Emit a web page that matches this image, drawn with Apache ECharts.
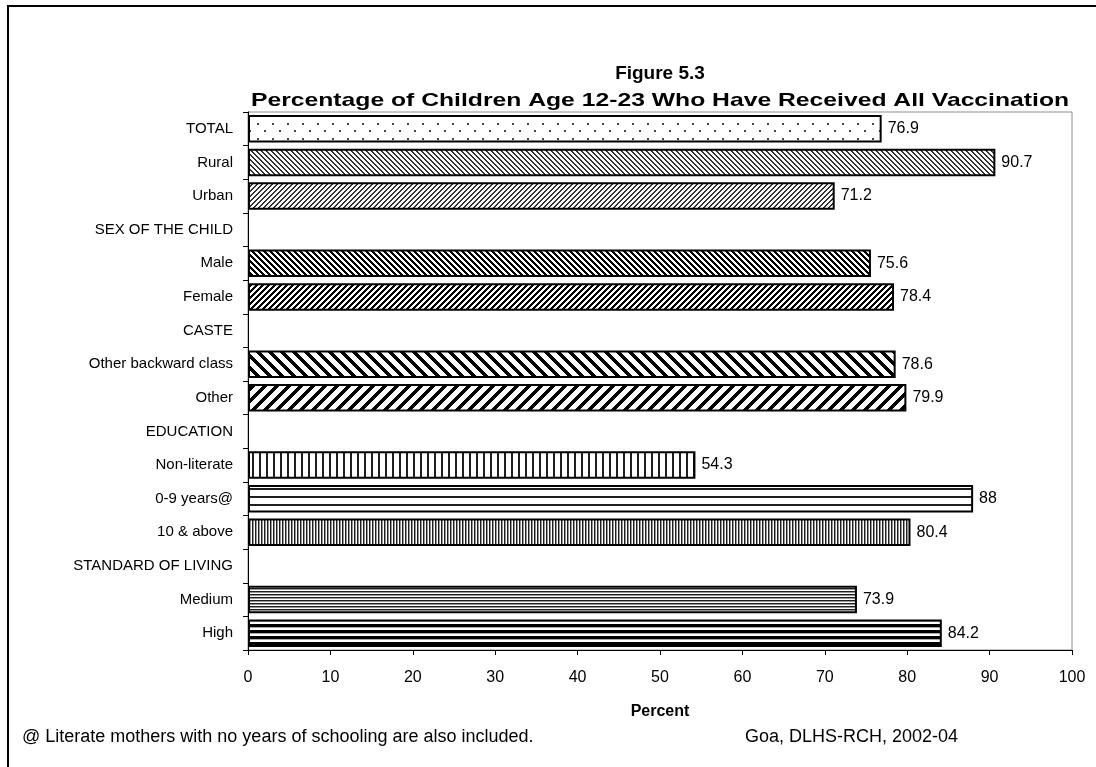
<!DOCTYPE html>
<html>
<head>
<meta charset="utf-8">
<script src="https://cdn.jsdelivr.net/npm/echarts@6/dist/echarts.min.js"></script>
<style>
  html, body { margin: 0; padding: 0; background: #ffffff; }
  #chart { width: 1096px; height: 767px; }
</style>
</head>
<body>
<div id="chart"></div>
<script>
// Categories, top to bottom; section headings carry no value
const categories = [
  'TOTAL', 'Rural', 'Urban',
  'SEX OF THE CHILD', 'Male', 'Female',
  'CASTE', 'Other backward class', 'Other',
  'EDUCATION', 'Non-literate', '0-9 years@', '10 & above',
  'STANDARD OF LIVING', 'Medium', 'High'
];
const values = [
  76.9, 90.7, 71.2,
  null, 75.6, 78.4,
  null, 78.6, 79.9,
  null, 54.3, 88, 80.4,
  null, 73.9, 84.2
];
// Hatch style used for each bar
const fills = [
  'dots', 'diagDownFine', 'diagUpFine',
  null, 'diagDownMed', 'diagUpMed',
  null, 'diagDownWide', 'diagUpWide',
  null, 'vertWide', 'horizWide', 'vertFine',
  null, 'horizFine', 'horizBold'
];
const xMin = 0, xMax = 100, xStep = 10;

const FONT = "'Liberation Sans', Arial, sans-serif";

// Build a repeating tile from a per-pixel shade function (returns 0-255 grey or null for white)
function tile(w, h, shade) {
  const c = document.createElement('canvas');
  c.width = w; c.height = h;
  const ctx = c.getContext('2d');
  const img = ctx.createImageData(w, h);
  for (let y = 0; y < h; y++) {
    for (let x = 0; x < w; x++) {
      const g = shade(x, y);
      const v = (g == null) ? 255 : g;
      const k = (y * w + x) * 4;
      img.data[k] = v; img.data[k + 1] = v; img.data[k + 2] = v; img.data[k + 3] = 255;
    }
  }
  ctx.putImageData(img, 0, 0);
  return c;
}

const mod = (a, n) => ((a % n) + n) % n;

const patterns = {
  dots: tile(15, 15, (x, y) =>
    ((x >= 2 && x < 4 && y >= 3 && y < 5) || (x >= 9 && x < 11 && y >= 10 && y < 12)) ? 70 : null),
  diagDownFine: tile(5, 5, (x, y) => mod(x - y, 5) < 2 ? 50 : null),
  diagUpFine: tile(5, 5, (x, y) => mod(x + y, 5) < 2 ? 50 : null),
  diagDownMed: tile(6, 6, (x, y) => mod(x - y, 6) < 3 ? 0 : null),
  diagUpMed: tile(6, 6, (x, y) => mod(x + y, 6) < 3 ? 0 : null),
  diagDownWide: tile(12, 12, (x, y) => mod(x - y, 12) < 5 ? 0 : null),
  diagUpWide: tile(12, 12, (x, y) => mod(x + y, 12) < 5 ? 0 : null),
  vertWide: tile(7, 7, (x, y) => x < 2 ? 30 : null),
  horizWide: tile(8, 8, (x, y) => y < 2 ? 30 : null),
  vertFine: tile(3, 3, (x, y) => x === 0 ? 30 : (x === 1 ? 150 : null)),
  horizFine: tile(3, 3, (x, y) => y === 0 ? 30 : (y === 1 ? 150 : null)),
  horizBold: tile(6, 6, (x, y) => y < 3 ? 0 : (y === 3 ? 170 : null))
};

const barData = values.map((v, i) => {
  if (v == null) return '-';
  return {
    value: v,
    itemStyle: { color: { image: patterns[fills[i]], repeat: 'repeat' } }
  };
});

const chart = echarts.init(document.getElementById('chart'), null, { renderer: 'canvas' });

chart.setOption({
  animation: false,
  backgroundColor: '#ffffff',
  textStyle: { fontFamily: FONT },
  grid: {
    left: 248, right: 24, top: 112, bottom: 117,
    show: true, borderColor: '#8c8c8c', borderWidth: 1, backgroundColor: 'transparent'
  },
  xAxis: {
    type: 'value',
    min: xMin, max: xMax, interval: xStep,
    name: 'Percent',
    nameLocation: 'middle',
    nameGap: 54,
    nameTextStyle: { fontFamily: FONT, fontSize: 16, fontWeight: 'bold', color: '#000' },
    axisLine: { show: true, lineStyle: { color: '#000', width: 1 } },
    axisTick: { show: true, inside: false, length: 5, lineStyle: { color: '#000' } },
    axisLabel: { fontFamily: FONT, fontSize: 16, color: '#000', margin: 20 },
    splitLine: { show: false }
  },
  yAxis: {
    type: 'category',
    data: categories,
    inverse: true,
    boundaryGap: true,
    axisLine: { show: true, lineStyle: { color: '#000', width: 1 } },
    axisTick: { show: true, inside: false, length: 5, alignWithLabel: false, lineStyle: { color: '#000' } },
    axisLabel: { fontFamily: FONT, fontSize: 15, color: '#000', margin: 15 },
    splitLine: { show: false }
  },
  series: [{
    type: 'bar',
    data: barData,
    barWidth: '82%',
    itemStyle: { borderColor: '#000', borderWidth: 2 },
    label: {
      show: true,
      position: 'right',
      distance: 6,
      fontFamily: FONT,
      fontSize: 16,
      color: '#000',
      formatter: p => String(p.value)
    }
  }],
  graphic: [
    {
      type: 'rect', silent: true,
      shape: { x: 8, y: 6, width: 1300, height: 900 },
      style: { fill: 'none', stroke: '#000', lineWidth: 2 }
    },
    {
      type: 'text', x: 660, y: 74,
      style: { text: 'Figure 5.3', font: "bold 19px " + FONT, fill: '#000', align: 'center', verticalAlign: 'middle' }
    },
    {
      type: 'text', x: 660, y: 101, scaleX: 1.3,
      style: { text: 'Percentage of Children Age 12-23 Who Have Received All Vaccination', font: "bold 19px " + FONT, fill: '#000', align: 'center', verticalAlign: 'middle' }
    },
    {
      type: 'text', x: 22, y: 737,
      style: { text: '@ Literate mothers with no years of schooling are also included.', font: "18px " + FONT, fill: '#000', align: 'left', verticalAlign: 'middle' }
    },
    {
      type: 'text', x: 745, y: 737,
      style: { text: 'Goa, DLHS-RCH, 2002-04', font: "18px " + FONT, fill: '#000', align: 'left', verticalAlign: 'middle' }
    }
  ]
});
</script>
</body>
</html>
